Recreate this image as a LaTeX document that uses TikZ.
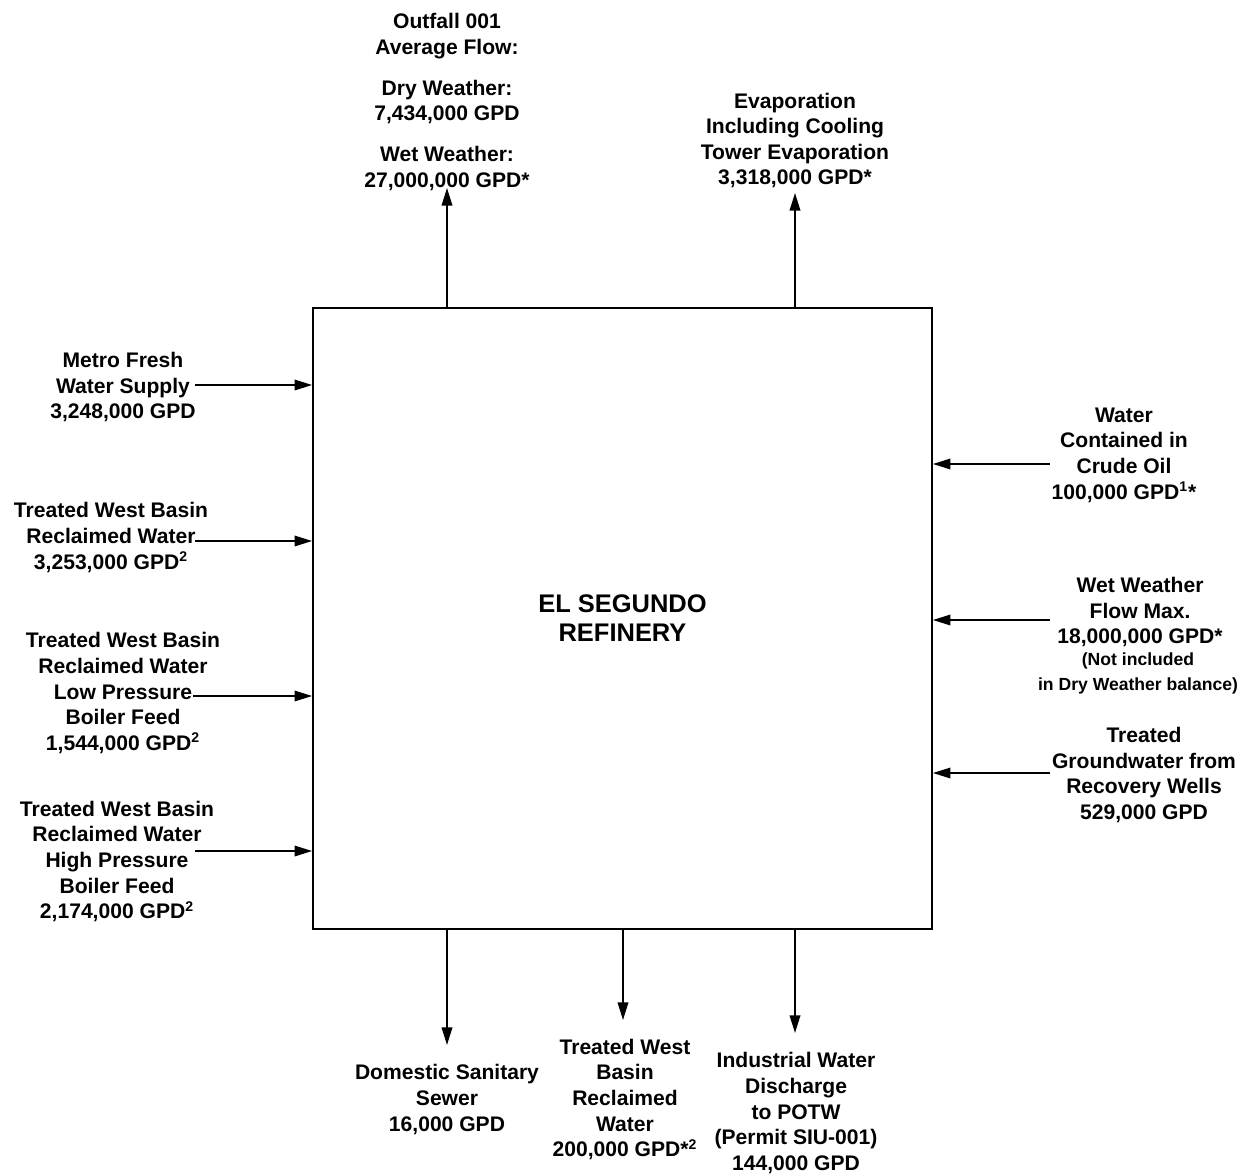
\documentclass[tikz,border=0pt]{standalone}
\usepackage{fontspec}
\setmainfont{Liberation Sans}
\usetikzlibrary{arrows.meta,positioning}

\begin{document}
\begin{tikzpicture}[%
	x=0.02cm,y=-0.02cm,>={Triangle[length=10pt,width=6pt]},
	every node/.style={align=center,inner sep=1pt,
		font=\bfseries\fontsize{12}{14.6}\selectfont},
	plant/.style={draw,line width=1.1pt,minimum width=12.38cm,minimum height=12.42cm,
		font=\bfseries\fontsize{14.5}{16.6}\selectfont},
	note/.style={font=\bfseries\fontsize{10}{14.2}\selectfont},
	flow/.style={->,line width=1pt}]

	\useasboundingbox (0,0) rectangle (1247,1176);

	\node[plant]	(ESR)	at (622.5,618.5)	{EL SEGUNDO\\REFINERY};

	% outflows on top
	\node	(outfall)	at (447,102)	{Outfall 001\\Average Flow:\\[8.5pt]
		Dry Weather:\\7,434,000 GPD\\[8.5pt]Wet Weather:\\27,000,000 GPD*};
	\node	(evap)		at (795,140.5)	{Evaporation\\Including Cooling\\
		Tower Evaporation\\3,318,000 GPD*};

	% inflows on the left
	\node	(metro)		at (123,387)	{Metro Fresh\\Water Supply\\3,248,000 GPD};
	\node	(twb)		at (111,537.5)	{Treated West Basin\\Reclaimed Water\\
		3,253,000 GPD\textsuperscript{2}};
	\node	(twbLP)		at (123,693)	{Treated West Basin\\Reclaimed Water\\
		Low Pressure\\Boiler Feed\\1,544,000 GPD\textsuperscript{2}};
	\node	(twbHP)		at (117,861.5)	{Treated West Basin\\Reclaimed Water\\
		High Pressure\\Boiler Feed\\2,174,000 GPD\textsuperscript{2}};

	% inflows on the right
	\node	(crude)		at (1124,455)	{Water\\Contained in\\Crude Oil\\
		100,000 GPD\textsuperscript{1}*};
	\node	(wet)		at (1140,612)	{Wet Weather\\Flow Max.\\18,000,000 GPD*};
	\node[note]	(wetNote)	at (1138,673.5)	{(Not included\\in Dry Weather balance)};
	\node	(gw)		at (1144,775)	{Treated\\Groundwater from\\Recovery Wells\\529,000 GPD};

	% outflows at the bottom
	\node	(sewer)		at (447,1099.5)	{Domestic Sanitary\\Sewer\\16,000 GPD};
	\node	(twbOut)	at (625,1099.5)	{Treated West\\Basin\\Reclaimed\\Water\\
		200,000 GPD*\textsuperscript{2}};
	\node	(potw)		at (796,1113)	{Industrial Water\\Discharge\\to POTW\\
		(Permit SIU-001)\\144,000 GPD};

	% free ends of the connectors
	\coordinate	(outfallIn)	at (447,188);
	\coordinate	(evapIn)	at (795,193);
	\coordinate	(metroOut)	at (195,385);
	\coordinate	(twbOut1)	at (195,541);
	\coordinate	(twbLPOut)	at (193,696);
	\coordinate	(twbHPOut)	at (195,851);
	\coordinate	(crudeOut)	at (1050,464);
	\coordinate	(wetOut)	at (1050,620);
	\coordinate	(gwOut)		at (1050,773);
	\coordinate	(sewerIn)	at (447,1045);
	\coordinate	(twbIn)		at (623,1020);
	\coordinate	(potwIn)	at (795,1033);

	\path[flow] (ESR.north -| outfallIn)	edge	(outfallIn);
	\path[flow] (ESR.north -| evapIn)		edge	(evapIn);

	\path[flow] (metroOut)	edge	(metroOut -| ESR.west);
	\path[flow] (twbOut1)	edge	(twbOut1 -| ESR.west);
	\path[flow] (twbLPOut)	edge	(twbLPOut -| ESR.west);
	\path[flow] (twbHPOut)	edge	(twbHPOut -| ESR.west);

	\path[flow] (crudeOut)	edge	(crudeOut -| ESR.east);
	\path[flow] (wetOut)	edge	(wetOut -| ESR.east);
	\path[flow] (gwOut)		edge	(gwOut -| ESR.east);

	\path[flow] (ESR.south -| sewerIn)	edge	(sewerIn);
	\path[flow] (ESR.south -| twbIn)	edge	(twbIn);
	\path[flow] (ESR.south -| potwIn)	edge	(potwIn);

\end{tikzpicture}
\end{document}
